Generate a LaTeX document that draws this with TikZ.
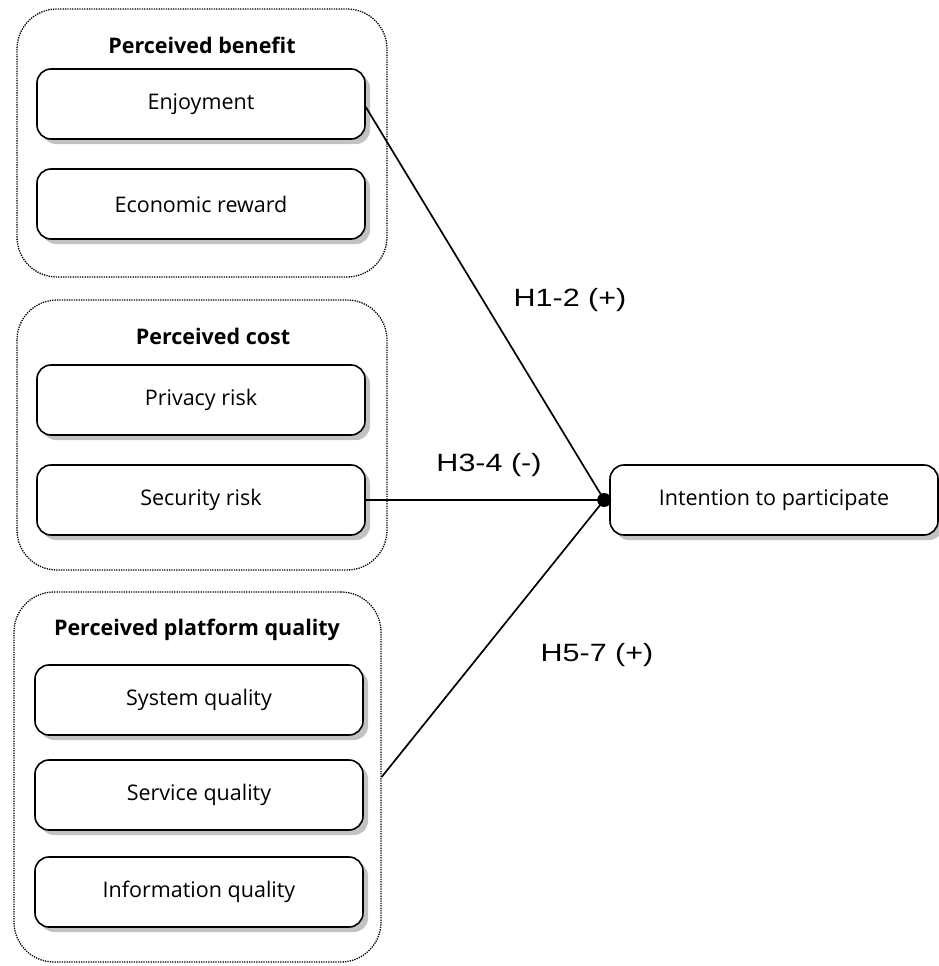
\documentclass[tikz,border=0pt]{standalone}
\usepackage{fontspec}
\setmainfont{Open Sans}
\newfontfamily\hypfont{Liberation Sans}
\usetikzlibrary{shadows,calc}
\tikzset{
  factor/.style={draw, line width=1.6pt, rounded corners=14pt, fill=white,
    minimum width=328pt, minimum height=70pt, font=\fontsize{21.5}{23}\selectfont,
    drop shadow={shadow xshift=5pt, shadow yshift=-5pt, fill=black!40, opacity=0.6}},
  group/.style={draw, line width=1.3pt, dash pattern=on 1.3pt off 1.1pt, rounded corners=40pt},
  grouptitle/.style={font=\bfseries\fontsize{21.5}{23}\selectfont},
  hyp/.style={font=\hypfont\fontsize{25}{27}\selectfont},
  path/.style={line width=1.7pt}
}
\begin{document}
\begin{tikzpicture}[x=1pt,y=-1pt]
\useasboundingbox (0,0) rectangle (939,966);
% groups
\draw[group] (17,9) rectangle (387,277);
\draw[group] (17,300) rectangle (387,570);
\node (pq) [group, minimum width=367pt, minimum height=370pt] at (197.5,777) {};
\node[grouptitle] (tben) at (202,45) {Perceived benefit};
\node[grouptitle] (tcost) at (213,336) {Perceived cost};
\node[grouptitle] (tplat) at (197,630) {Perceived platform quality};
% constructs
\node[factor] (enj) at (201,104) {Enjoyment};
\node[factor] (eco) at (201,204) {Economic reward};
\node[factor] (priv) at (201,400) {Privacy risk};
\node[factor] (sec) at (201,500) {Security risk};
\node[factor] (sys) at (199,700) {System quality};
\node[factor] (serv) at (199,795) {Service quality};
\node[factor] (info) at (199,892) {Information quality};
\node[factor] (int) at (774,500) {Intention to participate};
% paths
\coordinate (hub) at ($(int.west)+(-5,0)$);
\draw[path] ($(enj.east)+(0,3)$) -- (hub);
\draw[path] (sec.east) -- (hub);
\draw[path] (pq.east) -- (hub);
\fill (hub) circle [radius=7pt];
\node[hyp] (h12) at (570,300) {\scalebox{1.22}[1]{H1-2 (+)}};
\node[hyp] (h34) at (489,465) {\scalebox{1.22}[1]{H3-4 (-)}};
\node[hyp] (h57) at (597,655) {\scalebox{1.22}[1]{H5-7 (+)}};
\end{tikzpicture}
\end{document}
